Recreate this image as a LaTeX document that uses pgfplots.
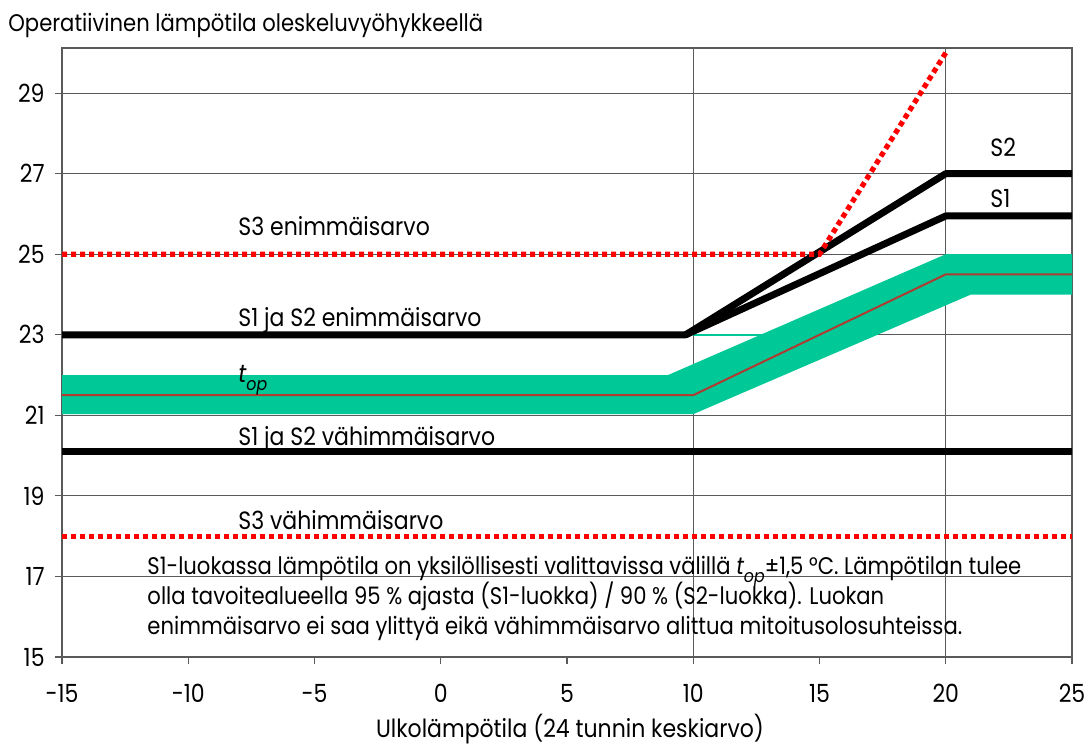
\documentclass[border=0pt]{standalone}
\usepackage{fontspec}
\setmainfont{Poppins}[FakeStretch=0.88]
\usepackage{pgfplots}
\pgfplotsset{compat=1.18}
\definecolor{band}{RGB}{0,200,150}
\definecolor{redline}{RGB}{255,0,0}
\definecolor{centerc}{RGB}{175,60,50}
\definecolor{gridc}{RGB}{90,90,90}
\begin{document}
\begin{tikzpicture}
\begin{axis}[
 at={(0,0)}, anchor=south west,
 scale only axis, width=505pt, height=304.5pt,
 xmin=-15, xmax=25, ymin=15, ymax=30.12,
 xtick={-15,-10,-5,0,5,10,15,20,25},
 xticklabels={{-15},{-10},{-5},{0},{5},{10},{15},{20},{25}},
 ytick={15,17,...,29},
 tick pos=left, tick align=outside,
 major tick length=3.5pt,
 tick style={gridc, line width=0.6pt},
 ymajorgrids, grid style={gridc, line width=0.6pt},
 axis line style={gridc, line width=0.6pt},
 extra x ticks={10,20}, extra x tick labels={}, extra x tick style={grid=major, major tick length=0pt},
 font=\fontsize{12.5}{15}\selectfont,
 /pgf/number format/assume math mode=true,
 xticklabel style={anchor=base, yshift=-19pt, inner sep=0pt},
 yticklabel style={anchor=east, inner sep=0pt, xshift=-5pt},
 clip=false,
]
% band
\addplot[fill=band, draw=none] coordinates {(-15,21.03)(10,21.03)(21,24)(25,24)(25,25)(20,25)(9,22)(-15,22)} -- cycle;
\addplot[band, line width=0.8pt] coordinates {(10,23)(13,23)};
% centre line
\addplot[centerc, line width=1pt] coordinates {(-15,21.5)(10,21.5)(20,24.5)(25,24.5)};
% S1/S2 limits
\addplot[black, line width=3.5pt, line join=round] coordinates {(-15,23)(9.7,23)(20,27)(25,27)};
\addplot[black, line width=3.5pt, line join=round] coordinates {(9.7,23)(20,25.95)(25,25.95)};
\addplot[black, line width=3.5pt] coordinates {(-15,20.1)(25,20.1)};
% S3 limits
\addplot[redline, line width=2.6pt, dash pattern=on 2.6pt off 1.9pt] coordinates {(-15,25)(15,25)(20,30)};
\addplot[redline, line width=2.6pt, dash pattern=on 2.6pt off 1.9pt] coordinates {(-15,18)(25,18)};
% labels
\node[anchor=base west, inner sep=0pt] at (axis cs:-8.03,25.46) {S3 enimmäisarvo};
\node[anchor=base west, inner sep=0pt] at (axis cs:-8.03,23.2) {S1 ja S2 enimmäisarvo};
\node[anchor=base west, inner sep=0pt] at (axis cs:-8.03,21.81) {\itshape t\raisebox{-0.55ex}{\fontsize{9}{10}\selectfont op}};
\node[anchor=base west, inner sep=0pt] at (axis cs:-8.03,20.25) {S1 ja S2 vähimmäisarvo};
\node[anchor=base west, inner sep=0pt] at (axis cs:-8.03,18.16) {S3 vähimmäisarvo};
\node[anchor=base west, inner sep=0pt] at (axis cs:21.75,27.42) {S2};
\node[anchor=base west, inner sep=0pt] at (axis cs:21.75,26.15) {S1};
\begin{scope}[font=\fontsize{12}{14}\selectfont]
\node[anchor=base west, inner sep=0pt] at (axis cs:-11.63,17.04) {S1-luokassa lämpötila on yksilöllisesti valittavissa välillä {\itshape t}\raisebox{-0.55ex}{\fontsize{9}{10}\selectfont\itshape op}±1,5 °C. Lämpötilan tulee};
\node[anchor=base west, inner sep=0pt] at (axis cs:-11.63,16.30) {olla tavoitealueella 95 \% ajasta (S1-luokka) / 90 \% (S2-luokka). Luokan};
\node[anchor=base west, inner sep=0pt] at (axis cs:-11.63,15.55) {enimmäisarvo ei saa ylittyä eikä vähimmäisarvo alittua mitoitusolosuhteissa.};
\node[anchor=base west, inner sep=0pt] at (rel axis cs:0,1) [xshift=-27pt, yshift=8.5pt] {Operatiivinen lämpötila oleskeluvyöhykkeellä};
\end{scope}
\node[anchor=base, inner sep=0pt] at (axis cs:5.12,15) [yshift=-40pt] {Ulkolämpötila (24 tunnin keskiarvo)};
\end{axis}
\pgfresetboundingbox
\path[use as bounding box] (-31pt,-47pt) rectangle (514pt,328.5pt);
\end{tikzpicture}
\end{document}
